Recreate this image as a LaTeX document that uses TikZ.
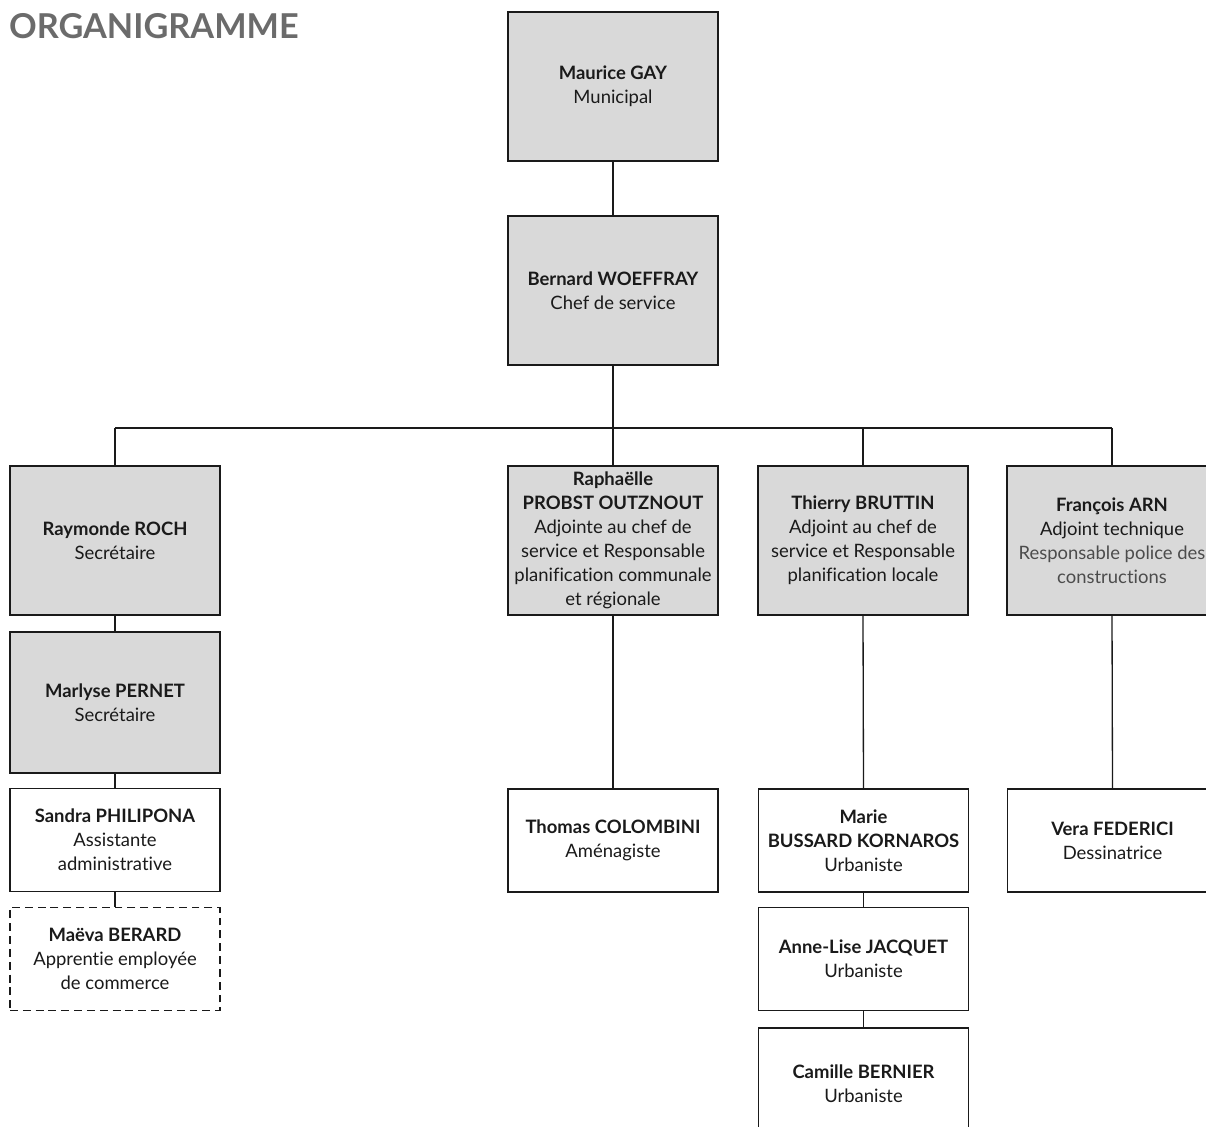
\documentclass[tikz,border=0pt]{standalone}
\usepackage{fontspec}
\setmainfont{Lato}[Ligatures=NoCommon]
\usetikzlibrary{positioning}
\definecolor{boxgray}{HTML}{D9D9D9}
\definecolor{titlegray}{HTML}{6B6B6B}
\definecolor{ink}{HTML}{1A1A1A}

\begin{document}
\begin{tikzpicture}[
  x=0.02cm,y=-0.02cm,
  font=\fontsize{10.5}{13.6}\selectfont,
  person/.style={draw=ink,line width=.75pt,align=center,
                 minimum width=4.2cm,inner sep=2pt,text=ink},
  lead/.style={person,fill=boxgray,minimum height=2.98cm},
  staff/.style={person,fill=white,minimum height=2.06cm},
  trainee/.style={staff,dash pattern=on 4.5pt off 2.8pt},
  link/.style={draw=ink,line width=.75pt}
]
\useasboundingbox (0,0) rectangle (1206,1126);
\clip (0,0) rectangle (1206,1126);

% Title
\node[font=\bfseries\fontsize{19.5}{21}\selectfont,text=titlegray,anchor=west] (title) at (3,26) {ORGANIGRAMME};

% Direction
\node[lead] (gay) at (613,86.5) {\textbf{Maurice GAY}\\Municipal};
\node[lead] (woeffray) at (613,290.5) {\textbf{Bernard WOEFFRAY}\\Chef de service};

% Adjoints and secretariat
\node[lead] (roch) at (115,540.5) {\textbf{Raymonde ROCH}\\Secrétaire};
\node[lead] (probst) at (613,540.5)
  {\textbf{Raphaëlle}\\\textbf{PROBST OUTZNOUT}\\Adjointe au chef de\\service et Responsable\\planification communale\\et régionale};
\node[lead] (bruttin) at (863,540.5)
  {\textbf{Thierry BRUTTIN}\\Adjoint au chef de\\service et Responsable\\planification locale};
\node[lead] (arn) at (1112,540.5)
  {\textbf{François ARN}\\Adjoint technique\\{\color{black!70}Responsable police des}\\{\color{black!70}constructions}};

% Secretariat column
\node[lead,minimum height=2.82cm] (pernet) at (115,702.5) {\textbf{Marlyse PERNET}\\Secrétaire};
\node[staff] (philipona) at (115,840) {\textbf{Sandra PHILIPONA}\\Assistante\\administrative};
\node[trainee] (berard) at (115,959) {\textbf{Maëva BERARD}\\Apprentie employée\\de commerce};

% Staff
\node[staff] (colombini) at (613,840.5) {\textbf{Thomas COLOMBINI}\\Aménagiste};
\node[staff] (bussard) at (863.5,840.5) {\textbf{Marie}\\\textbf{BUSSARD KORNAROS}\\Urbaniste};
\node[staff] (jacquet) at (863.5,959) {\textbf{Anne-Lise JACQUET}\\Urbaniste};
\node[staff,minimum height=2.24cm] (bernier) at (863.5,1084) {\textbf{Camille BERNIER}\\Urbaniste};
\node[staff] (federici) at (1112.5,840.5) {\textbf{Vera FEDERICI}\\Dessinatrice};

% Connectors
\coordinate (busL) at (115,428);
\coordinate (busR) at (1112,428);
\draw[link] (gay.south)--(woeffray.north);
\draw[link] (woeffray.south)--(woeffray.south |- busL);
\draw[link] (busL)--(busR);
\foreach \n in {roch,probst,bruttin,arn}{\draw[link] (\n.north)--(\n.north |- busL);}
\draw[link] (roch.south)--(pernet.north);
\draw[link] (pernet.south)--(philipona.north);
\draw[link] (philipona.south)--(berard.north);
\draw[link] (probst.south)--(colombini.north);
\draw[link] (bruttin.south)--(bussard.north);
\draw[link] (bussard.south)--(jacquet.north);
\draw[link] (jacquet.south)--(bernier.north);
\draw[link] (arn.south)--(federici.north);
\end{tikzpicture}
\end{document}
